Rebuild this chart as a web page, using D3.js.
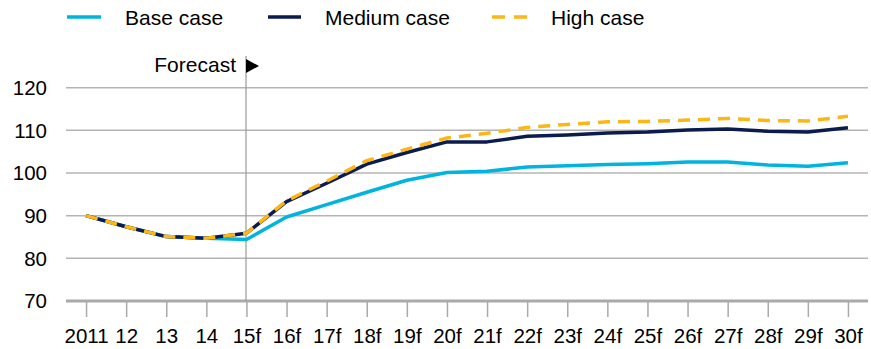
<!DOCTYPE html>
<html>
<head>
<meta charset="utf-8">
<script src="https://cdn.jsdelivr.net/npm/d3@7"></script>
<style>
  html, body { margin: 0; padding: 0; background: #fff; }
  svg { display: block; font-family: "Liberation Sans", Arial, Helvetica, sans-serif; }
</style>
</head>
<body>
<svg id="chart" width="871" height="349"></svg>
<script>
const categories = ["2011","12","13","14","15f","16f","17f","18f","19f","20f","21f","22f","23f","24f","25f","26f","27f","28f","29f","30f"];
const baseCase   = [90.0, 87.4, 85.1, 84.7, 84.4, 89.7, 92.6, 95.5, 98.3, 100.1, 100.4, 101.4, 101.7, 102.0, 102.2, 102.6, 102.6, 101.9, 101.6, 102.4];
const mediumCase = [90.0, 87.4, 85.1, 84.7, 85.9, 93.3, 97.6, 102.1, 104.8, 107.3, 107.3, 108.6, 108.9, 109.4, 109.6, 110.1, 110.3, 109.8, 109.6, 110.6];
const highCase   = [90.0, 87.4, 85.1, 84.7, 85.9, 93.5, 98.1, 102.9, 105.6, 108.2, 109.3, 110.7, 111.4, 112.0, 112.1, 112.4, 112.8, 112.3, 112.2, 113.3];
const yTicks = [70, 80, 90, 100, 110, 120];
const seriesNames = ["Base case", "Medium case", "High case"];
const forecastStart = "15f";
const forecastLabel = "Forecast";

const colors = { base: "#00b4e0", medium: "#0b1b4d", high: "#fbb716" };

const svg = d3.select("#chart");

const x = d3.scalePoint().domain(categories).range([66, 868]).padding(0.5);
const y = d3.scaleLinear().domain([70, 120]).range([301, 87.7]);

// gridlines
svg.append("g").selectAll("line")
  .data(yTicks.filter(d => d !== 70))
  .join("line")
  .attr("x1", 66).attr("x2", 868)
  .attr("y1", d => y(d)).attr("y2", d => y(d))
  .attr("stroke", "#b4b4b4").attr("stroke-width", 1.5);

// y labels
svg.append("g").selectAll("text")
  .data(yTicks)
  .join("text")
  .attr("x", 47).attr("y", d => y(d)).attr("dy", "0.36em")
  .attr("text-anchor", "end")
  .attr("font-size", 20.5).attr("fill", "#000")
  .text(d => d);

// x axis
const xAxis = d3.axisBottom(x).tickSize(16).tickPadding(8);
const gx = svg.append("g").attr("transform", `translate(0,${y(70)})`).call(xAxis);
gx.select(".domain").remove();
gx.selectAll(".tick line").attr("stroke", "#aaaaaa").attr("stroke-width", 1.5);
gx.selectAll(".tick text").attr("font-size", 20.5).attr("fill", "#000")
  .attr("font-family", "'Liberation Sans', Arial, sans-serif").attr("dy", "0.9em");

// baseline
svg.append("line")
  .attr("x1", 66).attr("x2", 868)
  .attr("y1", y(70)).attr("y2", y(70))
  .attr("stroke", "#aaaaaa").attr("stroke-width", 3);

// forecast marker
const fx = Math.round(x(forecastStart));
svg.append("line")
  .attr("x1", fx).attr("x2", fx)
  .attr("y1", 56).attr("y2", y(70))
  .attr("stroke", "#999999").attr("stroke-width", 1.2);
svg.append("text")
  .attr("x", fx - 10).attr("y", 72)
  .attr("text-anchor", "end").attr("font-size", 21).attr("fill", "#000")
  .text(forecastLabel);
svg.append("path")
  .attr("d", `M${fx},59 L${fx + 13},66 L${fx},73 Z`)
  .attr("fill", "#000");

// lines
const line = d3.line()
  .x((d, i) => x(categories[i]))
  .y(d => y(d));

svg.append("path").datum(baseCase).attr("d", line)
  .attr("fill", "none").attr("stroke", colors.base).attr("stroke-width", 3.5)
  .attr("stroke-linejoin", "round");
svg.append("path").datum(mediumCase).attr("d", line)
  .attr("fill", "none").attr("stroke", colors.medium).attr("stroke-width", 3.5)
  .attr("stroke-linejoin", "round");
svg.append("path").datum(highCase).attr("d", line)
  .attr("fill", "none").attr("stroke", colors.high).attr("stroke-width", 3.5)
  .attr("stroke-dasharray", "12,8").attr("stroke-linejoin", "round");

// legend
const legend = [
  { name: seriesNames[0], color: colors.base, dash: null, x1: 67, x2: 101, tx: 125 },
  { name: seriesNames[1], color: colors.medium, dash: null, x1: 268, x2: 301, tx: 325 },
  { name: seriesNames[2], color: colors.high, dash: "13,9", x1: 492, x2: 527, tx: 551 }
];
const lg = svg.append("g");
legend.forEach(l => {
  lg.append("line")
    .attr("x1", l.x1).attr("x2", l.x2).attr("y1", 17).attr("y2", 17)
    .attr("stroke", l.color).attr("stroke-width", 3.5)
    .attr("stroke-dasharray", l.dash);
  lg.append("text")
    .attr("x", l.tx).attr("y", 17).attr("dy", "0.36em")
    .attr("font-size", 21).attr("fill", "#000")
    .text(l.name);
});
</script>
</body>
</html>
